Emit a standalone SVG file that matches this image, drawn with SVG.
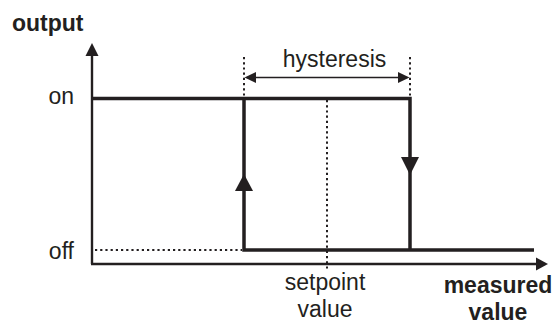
<svg xmlns="http://www.w3.org/2000/svg" width="559" height="321" viewBox="0 0 559 321">
<style>
text{font-family:"Liberation Sans",Arial,sans-serif;font-size:23px;fill:#231f20}
.b{font-weight:bold}
.thick{stroke:#231f20;stroke-width:3.5;fill:none}
.axis{stroke:#231f20;stroke-width:2.4;fill:none}
.thin{stroke:#231f20;stroke-width:1.4;fill:none}
.dot{stroke:#231f20;stroke-width:2;stroke-dasharray:2.2 3;fill:none}
.head{fill:#231f20}
</style>
<rect width="559" height="321" fill="#fff"/>
<g id="axes">
<line class="axis" x1="92" y1="264" x2="92" y2="54"/>
<polygon class="head" points="92,43 85.5,56 98.5,56"/>
<line class="axis" x1="91" y1="264" x2="538" y2="264"/>
<polygon class="head" points="548,264 536,257.5 536,270.5"/>
</g>
<g id="labels">
<text class="b" x="12" y="31">output</text>
<text x="74" y="104" text-anchor="end">on</text>
<text x="74" y="259" text-anchor="end">off</text>
<text x="334.5" y="67" text-anchor="middle">hysteresis</text>
<text x="325" y="290" text-anchor="middle">setpoint</text>
<text x="325" y="316.5" text-anchor="middle">value</text>
<text class="b" x="498" y="293" text-anchor="middle">measured</text>
<text class="b" x="498" y="320" text-anchor="middle">value</text>
</g>
<g id="guides">
<line class="dot" x1="244" y1="57" x2="244" y2="97"/>
<line class="dot" x1="410" y1="57" x2="410" y2="97"/>
<line class="dot" x1="327" y1="100" x2="327" y2="269"/>
<line class="dot" x1="95" y1="250" x2="242" y2="250"/>
</g>
<g id="hysteresis-arrow">
<line class="thin" x1="254" y1="77.5" x2="400" y2="77.5"/>
<polygon class="head" points="244.5,77.5 256,72 256,83"/>
<polygon class="head" points="409.5,77.5 398,72 398,83"/>
</g>
<g id="connectors">
<polyline class="thick" points="92,98.5 410,98.5 410,250"/>
<polyline class="thick" points="244,98.5 244,250 534,250"/>
<polygon class="head" points="244,174 235,191 253,191"/>
<polygon class="head" points="410,175 401,157 419,157"/>
</g>
</svg>
